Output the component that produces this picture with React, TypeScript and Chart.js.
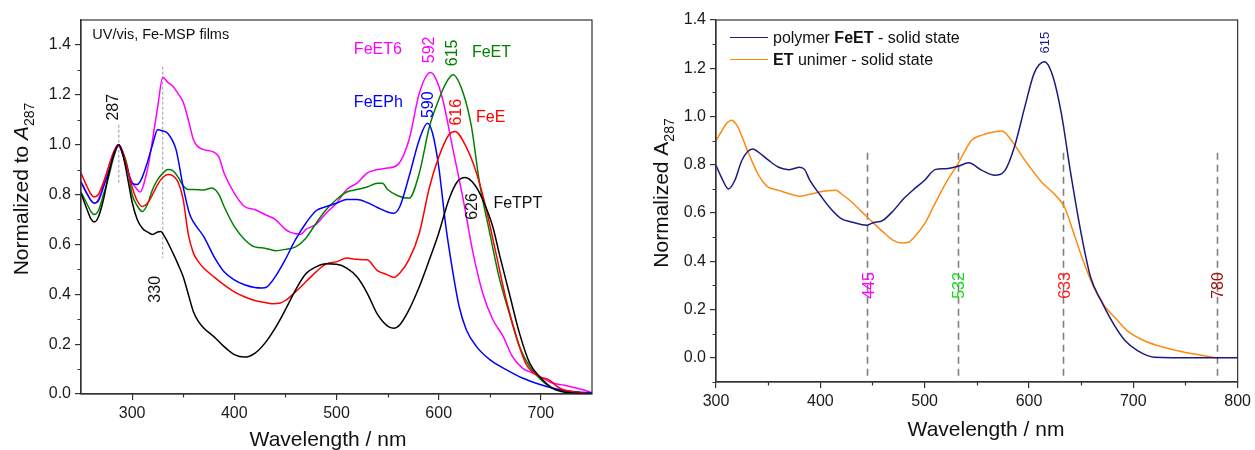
import { useEffect, useRef } from "react";
import { Chart, registerables } from "chart.js";
Chart.register(...registerables);

const FONT = "'Liberation Sans', Arial, sans-serif";

// ---------- Left panel: UV/vis, Fe-MSP films ----------
const feTptX = [250,255,260,263,267,272,277,282,287,291,295,300,305,310,315,320,325,328,332,340,345,350,355,360,365,370,380,390,400,410,420,430,440,450,460,470,480,490,500,510,520,530,540,550,556,562,570,581,591,600,610,618,626,635,643,653,660,669,679,689,700,711,720,735,750];
const feTptY = [0.806,0.75,0.70,0.69,0.71,0.78,0.88,0.96,1.0,0.96,0.88,0.77,0.70,0.665,0.65,0.64,0.65,0.652,0.63,0.565,0.52,0.47,0.40,0.33,0.29,0.265,0.23,0.19,0.158,0.148,0.163,0.204,0.264,0.338,0.418,0.482,0.51,0.522,0.52,0.505,0.47,0.405,0.32,0.272,0.264,0.278,0.33,0.43,0.54,0.645,0.78,0.85,0.868,0.84,0.78,0.67,0.55,0.405,0.244,0.124,0.064,0.024,0.01,0.003,0];

const feEX = [250,255,260,263,267,272,277,282,287,291,295,300,305,310,315,320,325,330,335,340,345,350,355,360,365,370,380,390,400,410,420,430,437,445,450,460,470,480,490,500,510,520,530,540,550,556,562,571,581,591,600,610,616,627,637,646,656,666,676,685,698,708,718,730,750];
const feEY = [0.886,0.84,0.80,0.79,0.80,0.85,0.91,0.97,1.0,0.97,0.91,0.83,0.775,0.752,0.765,0.80,0.84,0.868,0.88,0.875,0.85,0.78,0.64,0.565,0.53,0.505,0.47,0.438,0.41,0.39,0.375,0.367,0.362,0.365,0.375,0.41,0.45,0.49,0.522,0.53,0.545,0.54,0.538,0.495,0.478,0.467,0.485,0.54,0.645,0.83,0.95,1.04,1.053,0.99,0.886,0.75,0.565,0.378,0.231,0.124,0.07,0.057,0.024,0.01,0];

const feEPhX = [250,255,260,263,267,272,277,282,287,291,295,300,305,310,315,320,325,330,335,343,350,356,360,370,380,390,400,410,420,427,432,440,450,460,470,480,490,500,510,520,530,540,550,556,562,571,581,589,594,600,607,614,620,627,637,650,666,682,700,715,730,750];
const feEPhY = [0.85,0.81,0.775,0.765,0.775,0.83,0.89,0.96,1.0,0.96,0.91,0.845,0.84,0.87,0.93,1.0,1.06,1.055,1.045,0.98,0.83,0.725,0.69,0.632,0.552,0.49,0.458,0.438,0.427,0.425,0.43,0.47,0.54,0.62,0.685,0.735,0.752,0.765,0.78,0.78,0.768,0.748,0.73,0.725,0.752,0.872,1.02,1.086,1.046,0.912,0.672,0.485,0.351,0.258,0.19,0.138,0.098,0.064,0.037,0.02,0.01,0.005];

const feETX = [250,255,260,263,267,272,277,282,287,291,295,300,305,310,315,320,325,330,335,340,345,350,355,360,370,378,385,390,400,410,420,430,440,450,460,470,480,490,500,510,520,530,540,545,550,560,571,581,591,600,607,614,624,632,640,650,659,669,679,689,700,711,730,750];
const feETY = [0.81,0.77,0.73,0.72,0.735,0.80,0.87,0.95,1.0,0.97,0.92,0.80,0.755,0.732,0.76,0.82,0.86,0.885,0.90,0.895,0.87,0.835,0.82,0.82,0.818,0.826,0.80,0.752,0.672,0.62,0.59,0.585,0.575,0.58,0.59,0.625,0.685,0.74,0.78,0.81,0.82,0.83,0.845,0.845,0.82,0.795,0.785,0.886,1.073,1.18,1.246,1.28,1.206,1.073,0.846,0.645,0.47,0.325,0.19,0.11,0.057,0.024,0.01,0];

const feET6X = [250,255,260,263,267,272,277,282,286,290,295,300,305,308,312,316,320,325,330,335,340,345,350,355,360,365,370,380,385,390,400,410,420,430,440,450,455,460,465,470,480,490,500,510,520,530,540,550,560,571,581,592,597,604,614,624,633,643,653,663,672,682,692,702,711,723,731,741,750];
const feET6Y = [0.852,0.81,0.775,0.765,0.78,0.84,0.91,0.97,1.0,0.97,0.90,0.85,0.82,0.81,0.85,0.92,1.02,1.15,1.27,1.25,1.233,1.205,1.17,1.10,1.02,0.99,0.98,0.97,0.95,0.886,0.806,0.752,0.74,0.72,0.70,0.66,0.648,0.643,0.64,0.66,0.68,0.726,0.765,0.82,0.846,0.886,0.90,0.906,0.92,1.02,1.206,1.289,1.266,1.18,0.98,0.78,0.578,0.405,0.298,0.231,0.151,0.104,0.084,0.064,0.044,0.035,0.027,0.017,0.005];

const leftXTicks = [300, 400, 500, 600, 700];
const leftYTicks = [0, 0.2, 0.4, 0.6, 0.8, 1.0, 1.2, 1.4];

// ---------- Right panel: polymer vs unimer ----------
const polyX = [300,305,312,318,325,335,340,350,360,370,375,380,385,390,400,410,420,430,440,445,450,460,470,480,490,500,510,520,532,542,555,567,577,586,596,605,615,623,631,640,650,659,669,681,692,704,720,760,800];
const polyY = [0.798,0.75,0.70,0.735,0.82,0.865,0.855,0.82,0.79,0.78,0.785,0.79,0.78,0.735,0.674,0.618,0.577,0.563,0.552,0.55,0.559,0.57,0.61,0.66,0.70,0.736,0.78,0.784,0.794,0.808,0.777,0.757,0.777,0.874,1.04,1.18,1.227,1.165,1.013,0.764,0.515,0.335,0.238,0.141,0.072,0.03,0.003,0,0];

const unimerX = [300,305,310,315,320,325,330,335,340,345,350,360,370,380,390,400,410,415,420,430,440,450,460,470,478,485,490,500,510,520,532,545,555,565,574,583,596,612,624,634,643,653,662,672,682,694,710,729,748,764,780];
const unimerY = [0.90,0.937,0.971,0.985,0.964,0.916,0.86,0.81,0.764,0.73,0.708,0.694,0.68,0.67,0.678,0.688,0.694,0.695,0.68,0.646,0.604,0.563,0.522,0.487,0.476,0.48,0.50,0.556,0.64,0.722,0.805,0.902,0.923,0.935,0.94,0.902,0.819,0.729,0.68,0.625,0.515,0.39,0.293,0.217,0.169,0.113,0.072,0.044,0.024,0.012,0];

const rightXTicks = [300, 400, 500, 600, 700, 800];
const rightYTicks = [0, 0.2, 0.4, 0.6, 0.8, 1.0, 1.2, 1.4];
const laserLines = [445, 532, 633, 780];
const laserColors = ["#ff00ff", "#11dd11", "#ff1a1a", "#a01010"];

const pts = (xs: number[], ys: number[]) => xs.map((x, i) => ({ x, y: ys[i] }));

const AXIS = "#333333";

function vtext(ctx: CanvasRenderingContext2D, text: string, x: number, y: number, color: string, size: number) {
  ctx.save();
  ctx.translate(x, y);
  ctx.rotate(-Math.PI / 2);
  ctx.fillStyle = color;
  ctx.font = `${size}px ${FONT}`;
  ctx.textAlign = "center";
  ctx.textBaseline = "middle";
  ctx.fillText(text, 0, 0);
  ctx.restore();
}

function htext(ctx: CanvasRenderingContext2D, text: string, x: number, y: number, color: string, size: number, align: CanvasTextAlign = "left") {
  ctx.save();
  ctx.fillStyle = color;
  ctx.font = `${size}px ${FONT}`;
  ctx.textAlign = align;
  ctx.textBaseline = "middle";
  ctx.fillText(text, x, y);
  ctx.restore();
}

type Part = { t: string; font: string; dy?: number };
// draws rich text with left start at (0, baseline 0) in current transform
function richWidth(ctx: CanvasRenderingContext2D, parts: Part[]) {
  let w = 0;
  for (const p of parts) { ctx.font = p.font; w += ctx.measureText(p.t).width; }
  return w;
}
function drawRich(ctx: CanvasRenderingContext2D, parts: Part[], x0: number, base: number, color: string) {
  let x = x0;
  ctx.fillStyle = color;
  ctx.textBaseline = "alphabetic";
  ctx.textAlign = "left";
  for (const p of parts) {
    ctx.font = p.font;
    ctx.fillText(p.t, x, base + (p.dy || 0));
    x += ctx.measureText(p.t).width;
  }
}

function yTitle(ctx: CanvasRenderingContext2D, parts: Part[], cx: number, cy: number) {
  ctx.save();
  ctx.translate(cx, cy);
  ctx.rotate(-Math.PI / 2);
  const w = richWidth(ctx, parts);
  drawRich(ctx, parts, -w / 2, 7.5, "#111");
  ctx.restore();
}

function minorTicks(ctx: CanvasRenderingContext2D, chart: any, xMinor: number[], yMinor: number[]) {
  const { chartArea: a, scales: { x, y } } = chart;
  ctx.save();
  ctx.strokeStyle = AXIS;
  ctx.lineWidth = 1.2;
  ctx.beginPath();
  for (const v of xMinor) {
    const px = Math.round(x.getPixelForValue(v)) + 0.5;
    ctx.moveTo(px, a.bottom);
    ctx.lineTo(px, a.bottom + 3.5);
  }
  for (const v of yMinor) {
    const py = Math.round(y.getPixelForValue(v)) + 0.5;
    ctx.moveTo(a.left, py);
    ctx.lineTo(a.left - 3.5, py);
  }
  ctx.stroke();
  ctx.strokeRect(a.left, a.top, a.right - a.left, a.bottom - a.top);
  ctx.restore();
}

const leftPlugin = {
  id: "leftDecor",
  beforeDatasetsDraw(chart: any) {
    const { ctx, scales: { x, y } } = chart;
    ctx.save();
    ctx.strokeStyle = "#9a9a9a";
    ctx.lineWidth = 1;
    ctx.setLineDash([3, 2]);
    ctx.beginPath();
    ctx.moveTo(x.getPixelForValue(287), y.getPixelForValue(1.08));
    ctx.lineTo(x.getPixelForValue(287), y.getPixelForValue(0.846));
    ctx.moveTo(x.getPixelForValue(330), y.getPixelForValue(1.313));
    ctx.lineTo(x.getPixelForValue(330), y.getPixelForValue(0.545));
    ctx.stroke();
    ctx.restore();
  },
  afterDatasetsDraw(chart: any) {
    const { ctx, scales: { x, y } } = chart;
    minorTicks(ctx, chart, [350, 450, 550, 650], [0.1, 0.3, 0.5, 0.7, 0.9, 1.1, 1.3]);
    const X = (v: number) => x.getPixelForValue(v);
    const Y = (v: number) => y.getPixelForValue(v);
    htext(ctx, "UV/vis, Fe-MSP films", X(261), Y(1.44), "#111", 14.5);
    htext(ctx, "FeET6", X(517), Y(1.38), "#ff00ff", 16);
    htext(ctx, "FeET", X(632.5), Y(1.368), "#008000", 16);
    htext(ctx, "FeEPh", X(517), Y(1.167), "#0000ff", 16);
    htext(ctx, "FeE", X(636.5), Y(1.11), "#ff0000", 16);
    htext(ctx, "FeTPT", X(653.5), Y(0.764), "#111", 16);
    vtext(ctx, "592", X(591.5), Y(1.38), "#ff00ff", 16);
    vtext(ctx, "615", X(614), Y(1.368), "#008000", 16);
    vtext(ctx, "590", X(590), Y(1.16), "#0000ff", 16);
    vtext(ctx, "616", X(617.5), Y(1.13), "#ff0000", 16);
    vtext(ctx, "626", X(633.5), Y(0.752), "#111", 16);
    vtext(ctx, "287", X(282), Y(1.15), "#111", 16);
    vtext(ctx, "330", X(323), Y(0.42), "#111", 16);
    // axis titles
    yTitle(ctx, [
      { t: "Normalized to ", font: `21px ${FONT}` },
      { t: "A", font: `italic 21px ${FONT}` },
      { t: "287", font: `14px ${FONT}`, dy: 6 },
    ], 20, 189);
    htext(ctx, "Wavelength / nm", 328, 440, "#111", 21, "center");
  },
};

const rightPlugin = {
  id: "rightDecor",
  beforeDatasetsDraw(chart: any) {
    const { ctx, chartArea: a, scales: { x, y } } = chart;
    ctx.save();
    ctx.strokeStyle = "#7f7f7f";
    ctx.lineWidth = 1.6;
    ctx.setLineDash([7, 5]);
    ctx.beginPath();
    for (const l of laserLines) {
      const px = Math.round(x.getPixelForValue(l)) + 0.5;
      ctx.moveTo(px, y.getPixelForValue(0.85));
      ctx.lineTo(px, a.bottom);
    }
    ctx.stroke();
    ctx.restore();
  },
  afterDatasetsDraw(chart: any) {
    const { ctx, chartArea: a, scales: { x, y } } = chart;
    minorTicks(ctx, chart, [350, 450, 550, 650, 750], [-0.1, 0.1, 0.3, 0.5, 0.7, 0.9, 1.1, 1.3]);
    laserLines.forEach((l, i) => {
      vtext(ctx, String(l), x.getPixelForValue(l) + 2, y.getPixelForValue(0.3), laserColors[i], 16);
    });
    vtext(ctx, "615", x.getPixelForValue(615.6), y.getPixelForValue(1.306), "#1a1a8c", 13);
    // legend
    const lx = a.left + 14;
    const rows = [
      { c: "#1a1a80", parts: [
        { t: "polymer ", font: `16px ${FONT}` },
        { t: "FeET", font: `bold 16px ${FONT}` },
        { t: " - solid state", font: `16px ${FONT}` },
      ] },
      { c: "#ff8a10", parts: [
        { t: "ET", font: `bold 16px ${FONT}` },
        { t: " unimer - solid state", font: `16px ${FONT}` },
      ] },
    ];
    rows.forEach((r, i) => {
      const ly = a.top + 17 + i * 22;
      ctx.save();
      ctx.strokeStyle = r.c;
      ctx.lineWidth = 1.2;
      ctx.beginPath();
      ctx.moveTo(lx, ly + 0.5);
      ctx.lineTo(lx + 38, ly + 0.5);
      ctx.stroke();
      drawRich(ctx, r.parts, lx + 43, ly + 6, "#111");
      ctx.restore();
    });
    ctx.save();
    yTitle(ctx, [
      { t: "Normalized A", font: `21px ${FONT}` },
      { t: "287", font: `14px ${FONT}`, dy: 6 },
    ], 40, 193);
    ctx.restore();
    htext(ctx, "Wavelength / nm", 366, 430, "#111", 21, "center");
  },
};

function axisCfg(min: number, max: number, ticks: number[], fit: (s: any) => void, fmt: (v: number) => string) {
  return {
    type: "linear" as const,
    min,
    max,
    afterBuildTicks: (s: any) => { s.ticks = ticks.map((v) => ({ value: v })); },
    afterFit: fit,
    grid: { drawOnChartArea: false, drawTicks: true, tickLength: 6, color: AXIS, lineWidth: 1.2 },
    border: { display: true, color: AXIS, width: 1.2 },
    ticks: {
      autoSkip: false,
      maxRotation: 0,
      padding: 4,
      color: "#1a1a1a",
      font: { family: FONT, size: 16 },
      callback: (v: any) => fmt(Number(v)),
    },
  };
}

function line(data: { x: number; y: number }[], color: string, w = 1.5) {
  return {
    data,
    borderColor: color,
    borderWidth: w,
    pointRadius: 0,
    fill: false,
    cubicInterpolationMode: "monotone" as const,
  };
}

export default function App() {
  const leftRef = useRef<HTMLCanvasElement>(null);
  const rightRef = useRef<HTMLCanvasElement>(null);

  useEffect(() => {
    const left = new Chart(leftRef.current!, {
      type: "line",
      data: {
        datasets: [
          line(pts(feTptX, feTptY), "#000000"),
          line(pts(feEX, feEY), "#ff0000"),
          line(pts(feEPhX, feEPhY), "#0000ff"),
          line(pts(feETX, feETY), "#008000"),
          line(pts(feET6X, feET6Y), "#ff00ff"),
        ],
      },
      options: {
        animation: false,
        responsive: false,
        maintainAspectRatio: false,
        parsing: false,
        layout: { padding: { left: 0, top: 20, right: 28, bottom: 0 } },
        plugins: { legend: { display: false }, tooltip: { enabled: false } },
        scales: {
          x: axisCfg(250, 750, leftXTicks, (s: any) => { s.height = 56; }, (v) => String(v)),
          y: axisCfg(0, 1.5, leftYTicks, (s: any) => { s.width = 81; }, (v) => v.toFixed(1)),
        },
      } as any,
      plugins: [leftPlugin],
    });
    const right = new Chart(rightRef.current!, {
      type: "line",
      data: {
        datasets: [
          line(pts(polyX, polyY), "#1a1a80"),
          line(pts(unimerX, unimerY), "#ff8a10"),
        ],
      },
      options: {
        animation: false,
        responsive: false,
        maintainAspectRatio: false,
        parsing: false,
        layout: { padding: { left: 0, top: 20, right: 13, bottom: 0 } },
        plugins: { legend: { display: false }, tooltip: { enabled: false } },
        scales: {
          x: axisCfg(300, 800, rightXTicks, (s: any) => { s.height = 68; }, (v) => String(v)),
          y: axisCfg(-0.1, 1.4, rightYTicks, (s: any) => { s.width = 96; }, (v) => v.toFixed(1)),
        },
      } as any,
      plugins: [rightPlugin],
    });
    return () => { left.destroy(); right.destroy(); };
  }, []);

  return (
    <div style={{ position: "fixed", left: 0, top: 0, width: 1255, height: 450, background: "#fff" }}>
      <canvas ref={leftRef} width={620} height={450} style={{ position: "absolute", left: 0, top: 0, width: 620, height: 450 }} />
      <canvas ref={rightRef} width={635} height={450} style={{ position: "absolute", left: 620, top: 0, width: 635, height: 450 }} />
    </div>
  );
}
